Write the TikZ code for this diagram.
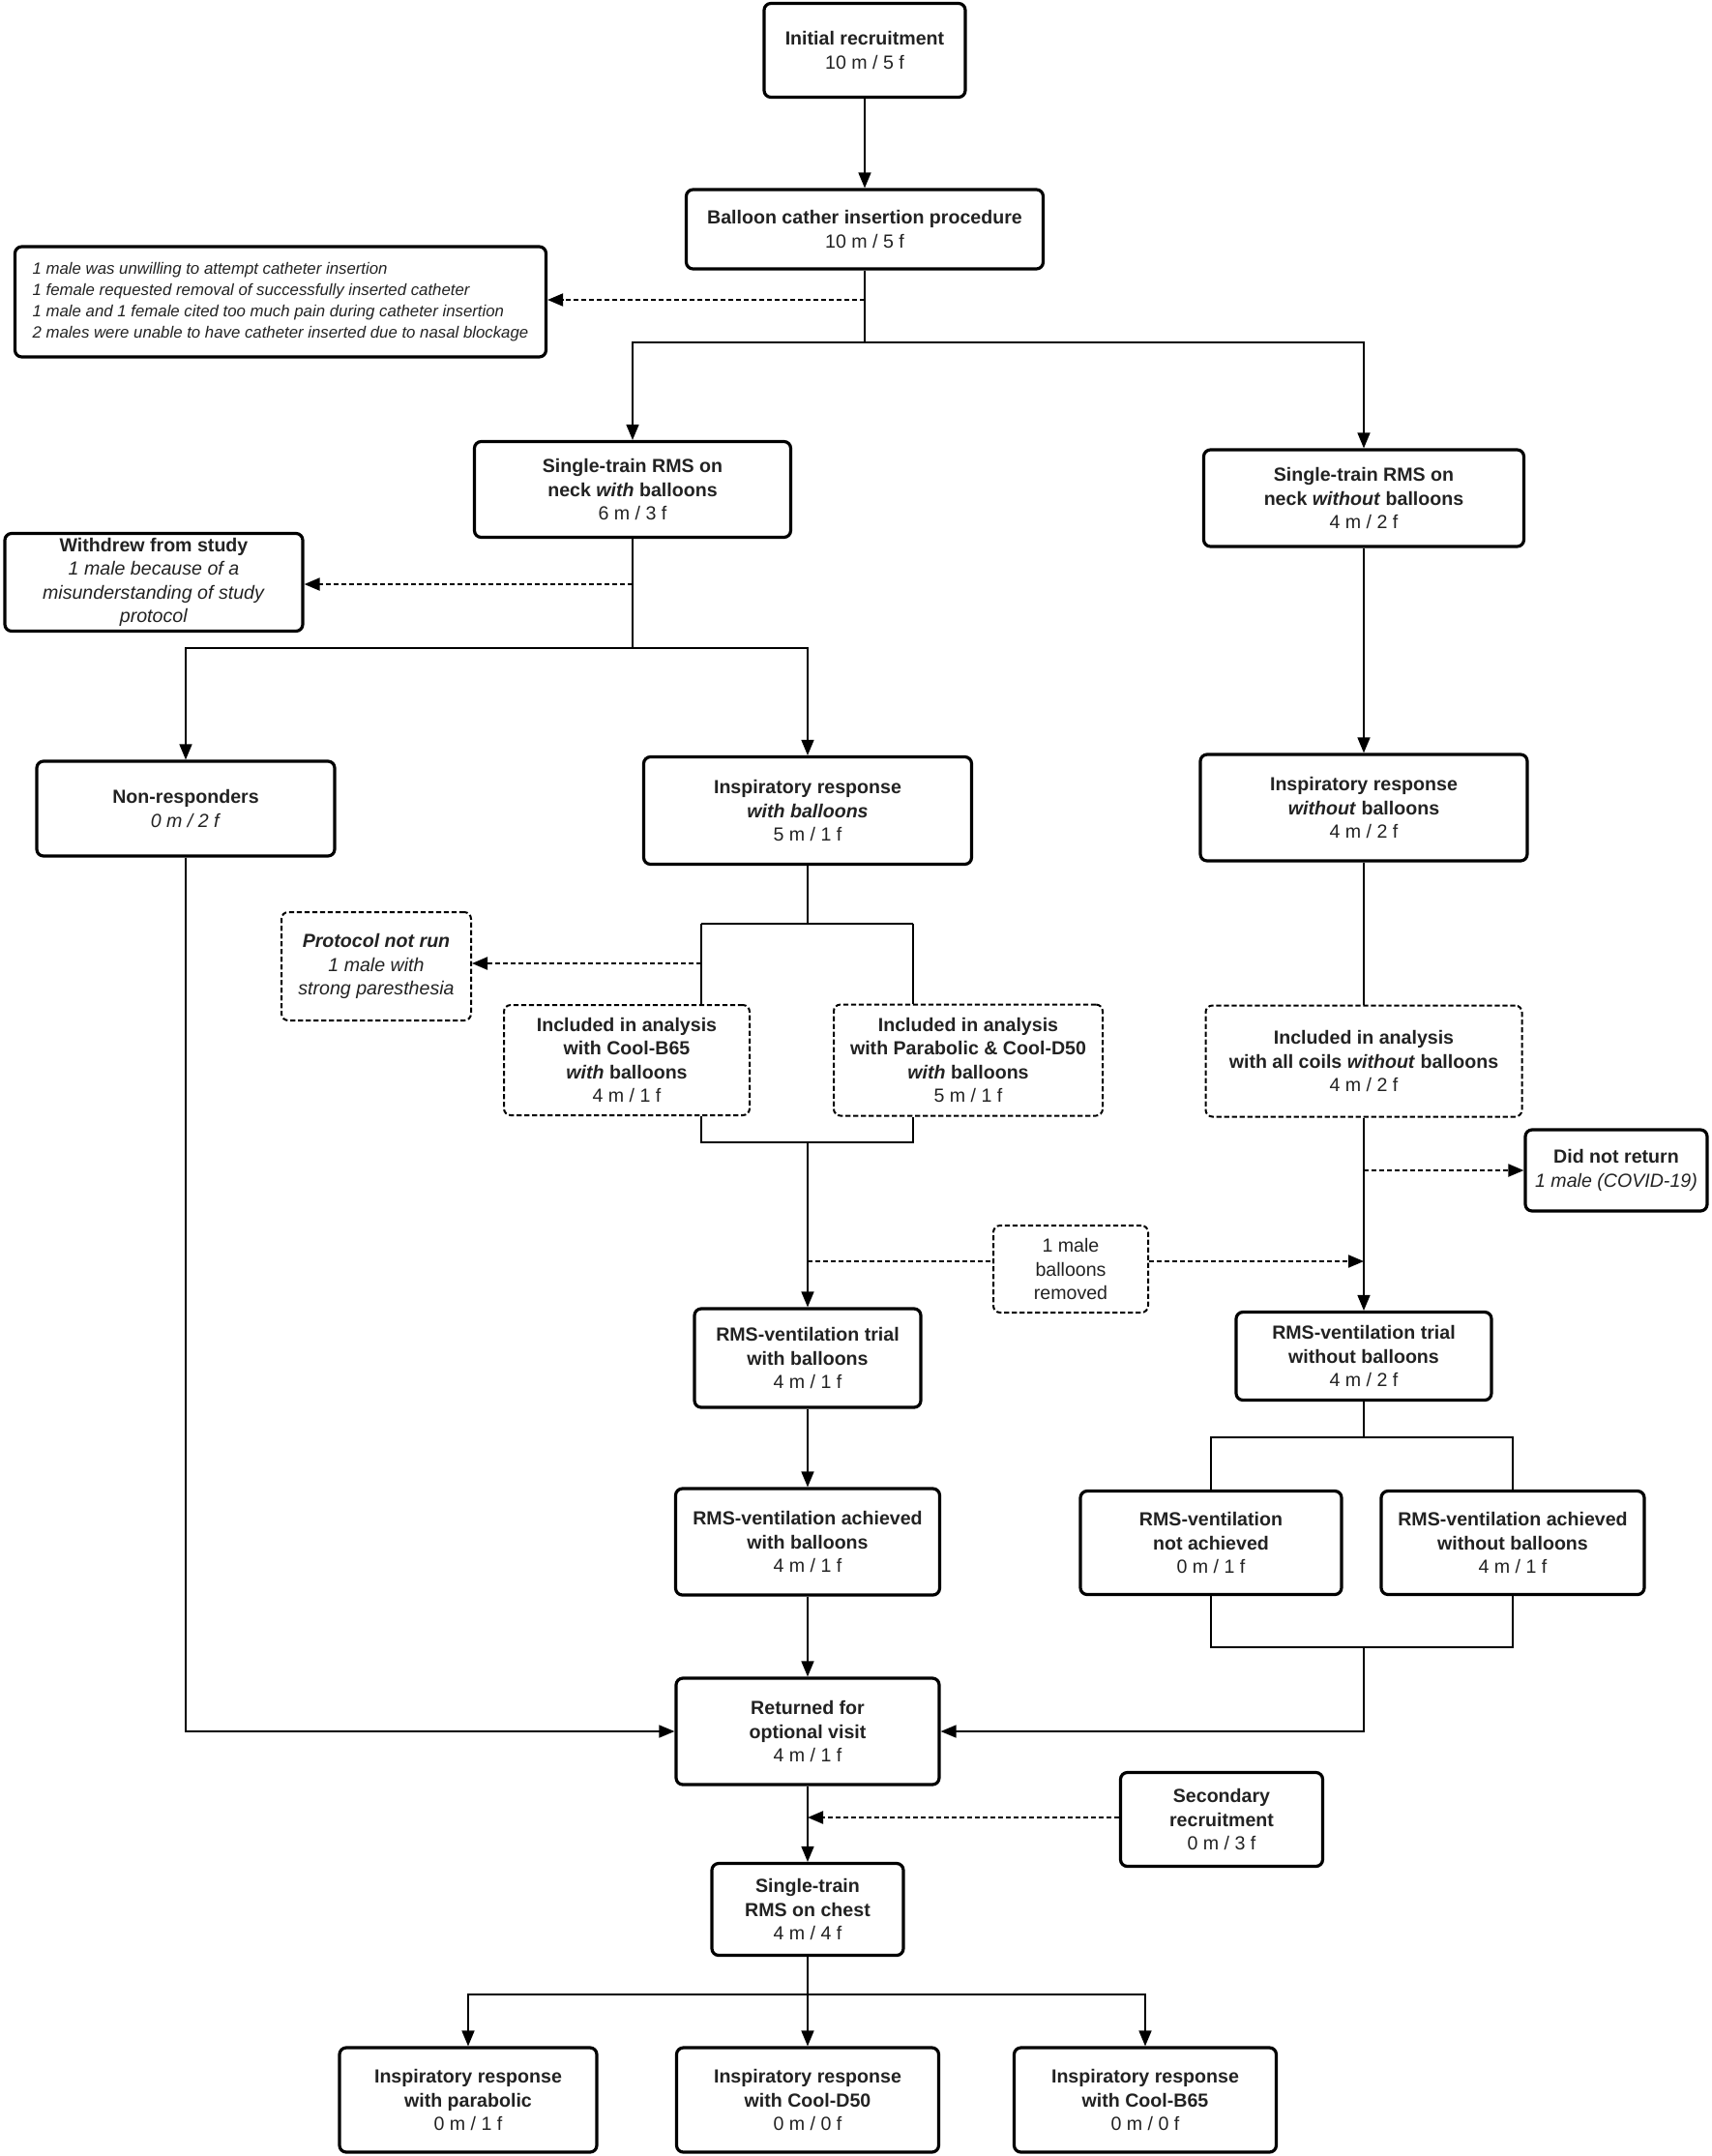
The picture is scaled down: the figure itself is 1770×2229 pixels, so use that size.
\documentclass[tikz,border=0pt]{standalone}
\usepackage{fontspec}
\setmainfont{Liberation Sans}
\usetikzlibrary{arrows.meta}
\definecolor{txt}{HTML}{222222}
\begin{document}
\begin{tikzpicture}[x=0.5pt,y=-0.5pt,
  box/.style={draw=black, line width=1.6pt, rounded corners=3.5pt, align=center, text=txt,
    font=\fontsize{9.8}{12.3}\selectfont, inner sep=1pt},
  dbox/.style={box, line width=1pt, dash pattern=on 2.6pt off 1.4pt},
  sz/.style 2 args={minimum width=#1*0.5pt, minimum height=#2*0.5pt},
  conn/.style={line width=0.75pt},
  dconn/.style={line width=1pt, dash pattern=on 2.6pt off 1.4pt},
  arr/.style={-{Triangle[length=8pt,width=6.5pt]}}
]
\useasboundingbox (0,0) rectangle (1770,2229);
\fill[white] (0,0) rectangle (1770,2229);

% nodes
\node[box, sz={208}{97}] (init) at (894,52) {\textbf{Initial recruitment}\\10 m / 5 f};
\node[box, sz={369}{82}] (cath) at (894,237) {\textbf{Balloon cather insertion procedure}\\10 m / 5 f};
\node[box, sz={549}{114}, align=left, font=\fontsize{8.4}{11}\selectfont\itshape] (notes) at (290,312)
  {1 male was unwilling to attempt catheter insertion\\1 female requested removal of successfully inserted catheter\\1 male and 1 female cited too much pain during catheter insertion\\2 males were unable to have catheter inserted due to nasal blockage};
\node[box, sz={327}{99}] (stwith) at (654,506) {\textbf{Single-train RMS on}\\\textbf{neck \textit{with} balloons}\\6 m / 3 f};
\node[box, sz={331}{100}] (stwo) at (1410,515) {\textbf{Single-train RMS on}\\\textbf{neck \textit{without} balloons}\\4 m / 2 f};
\node[box, sz={308}{101}] (withdrew) at (159,602) {\textbf{Withdrew from study}\\\textit{1 male because of a}\\\textit{misunderstanding of study}\\\textit{protocol}};
\node[box, sz={308}{98}] (nonresp) at (192,836) {\textbf{Non-responders}\\\textit{0 m / 2 f}};
\node[box, sz={339}{111}] (inspw) at (835,838) {\textbf{Inspiratory response}\\\textbf{\textit{with balloons}}\\5 m / 1 f};
\node[box, sz={338}{110}] (inspwo) at (1410,835) {\textbf{Inspiratory response}\\\textbf{\textit{without} balloons}\\4 m / 2 f};
\node[dbox, sz={196}{112}] (protocol) at (389,999) {\textbf{\textit{Protocol not run}}\\\textit{1 male with}\\\textit{strong paresthesia}};
\node[dbox, sz={254}{114}] (inclB) at (648,1096) {\textbf{Included in analysis}\\\textbf{with Cool-B65}\\\textbf{\textit{with} balloons}\\4 m / 1 f};
\node[dbox, sz={278}{115}] (inclP) at (1001,1096) {\textbf{Included in analysis}\\\textbf{with Parabolic \& Cool-D50}\\\textbf{\textit{with} balloons}\\5 m / 1 f};
\node[dbox, sz={327}{115}] (inclA) at (1410,1097) {\textbf{Included in analysis}\\\textbf{with all coils \textit{without} balloons}\\4 m / 2 f};
\node[box, sz={188}{84}] (dnr) at (1671,1210) {\textbf{Did not return}\\\textit{1 male (COVID-19)}};
\node[dbox, sz={160}{90}] (mrem) at (1107,1312) {1 male\\balloons\\removed};
\node[box, sz={234}{102}] (rtw) at (835,1404) {\textbf{RMS-ventilation trial}\\\textbf{with balloons}\\4 m / 1 f};
\node[box, sz={264}{91}] (rtwo) at (1410,1402) {\textbf{RMS-ventilation trial}\\\textbf{without balloons}\\4 m / 2 f};
\node[box, sz={273}{110}] (achw) at (835,1594) {\textbf{RMS-ventilation achieved}\\\textbf{with balloons}\\4 m / 1 f};
\node[box, sz={270}{107}] (notach) at (1252,1595) {\textbf{RMS-ventilation}\\\textbf{not achieved}\\0 m / 1 f};
\node[box, sz={272}{107}] (achwo) at (1564,1595) {\textbf{RMS-ventilation achieved}\\\textbf{without balloons}\\4 m / 1 f};
\node[box, sz={272}{110}] (ret) at (835,1790) {\textbf{Returned for}\\\textbf{optional visit}\\4 m / 1 f};
\node[box, sz={209}{97}] (sec) at (1263,1881) {\textbf{Secondary}\\\textbf{recruitment}\\0 m / 3 f};
\node[box, sz={198}{95}] (chest) at (835,1974) {\textbf{Single-train}\\\textbf{RMS on chest}\\4 m / 4 f};
\node[box, sz={266}{108}] (ip) at (484,2171) {\textbf{Inspiratory response}\\\textbf{with parabolic}\\0 m / 1 f};
\node[box, sz={271}{108}] (id) at (835,2171) {\textbf{Inspiratory response}\\\textbf{with Cool-D50}\\0 m / 0 f};
\node[box, sz={271}{108}] (ib) at (1184,2171) {\textbf{Inspiratory response}\\\textbf{with Cool-B65}\\0 m / 0 f};

% junction coordinates
\coordinate (j1) at (894,354);
\coordinate (d1) at (894,310);
\coordinate (j2) at (654,670);
\coordinate (d2) at (654,604);
\coordinate (j3) at (835,955);
\coordinate (j3l) at (725,955);
\coordinate (j3r) at (944,955);
\coordinate (d3) at (725,996);
\coordinate (j4) at (835,1181);
\coordinate (j4l) at (725,1181);
\coordinate (j4r) at (944,1181);
\coordinate (d4) at (1410,1210);
\coordinate (d5) at (835,1304);
\coordinate (d6) at (1410,1304);
\coordinate (j5) at (1410,1486);
\coordinate (j6) at (1410,1703);
\coordinate (d7) at (835,1879);
\coordinate (j7) at (835,2062);

% connectors
\draw[conn,arr] (init) -- (cath);
\draw[conn] (cath) -- (j1);
\draw[conn,arr] (j1) -| (stwith);
\draw[conn,arr] (j1) -| (stwo);
\draw[dconn,arr] (d1) -- (d1 -| notes.east);

\draw[conn] (stwith) -- (j2);
\draw[conn,arr] (j2) -| (nonresp);
\draw[conn,arr] (j2) -| (inspw);
\draw[dconn,arr] (d2) -- (d2 -| withdrew.east);

\draw[conn,arr] (stwo) -- (inspwo);

\draw[conn] (inspw) -- (j3);
\draw[conn] (j3l) -- (j3r);
\draw[conn] (j3l) -- (j3l |- inclB.north);
\draw[conn] (j3r) -- (j3r |- inclP.north);
\draw[dconn,arr] (d3) -- (d3 -| protocol.east);

\draw[conn] (j4l |- inclB.south) -- (j4l) -- (j4r) -- (j4r |- inclP.south);
\draw[conn,arr] (j4) -- (rtw);

\draw[conn] (inspwo) -- (inclA);
\draw[conn,arr] (inclA) -- (rtwo);
\draw[dconn,arr] (d4) -- (d4 -| dnr.west);

\draw[dconn] (d5) -- (d5 -| mrem.west);
\draw[dconn,arr] (d6 -| mrem.east) -- (d6);

\draw[conn,arr] (rtw) -- (achw);
\draw[conn] (rtwo) -- (j5);
\draw[conn] (j5) -| (notach);
\draw[conn] (j5) -| (achwo);

\draw[conn] (notach) |- (j6);
\draw[conn] (achwo) |- (j6);
\draw[conn,arr] (j6) |- (ret);
\draw[conn,arr] (achw) -- (ret);
\draw[conn,arr] (nonresp) |- (ret);

\draw[conn,arr] (ret) -- (chest);
\draw[dconn,arr] (d7 -| sec.west) -- (d7);

\draw[conn] (chest) -- (j7);
\draw[conn,arr] (j7) -| (ip);
\draw[conn,arr] (j7) -| (ib);
\draw[conn,arr] (j7) -- (id);
\end{tikzpicture}
\end{document}
